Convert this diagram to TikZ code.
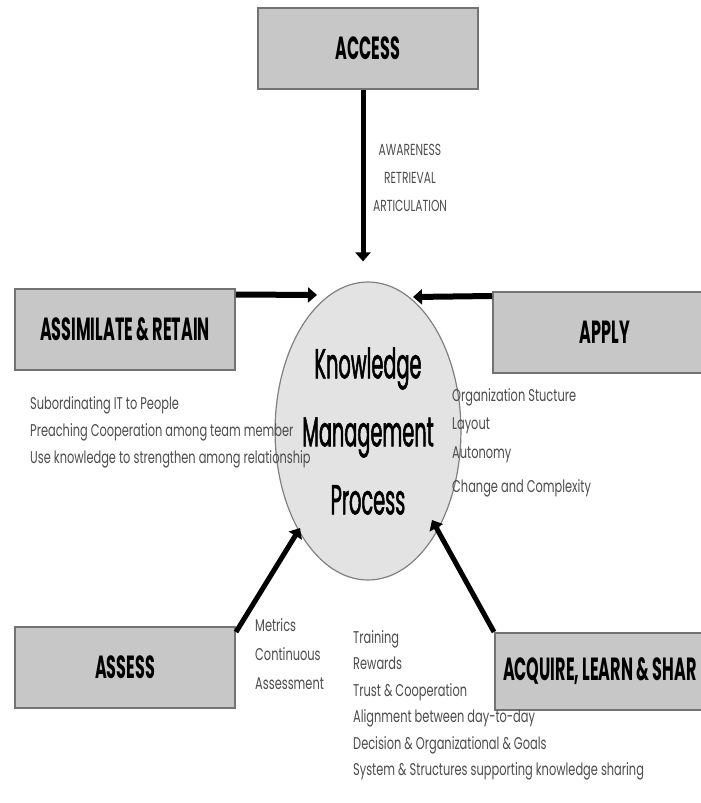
\documentclass[tikz,border=0pt]{standalone}
\usepackage{fontspec}
\usetikzlibrary{arrows.meta}
\usetikzlibrary{shapes.geometric}
\newfontfamily\boxfont[FakeStretch=0.5]{Poppins}
\newfontfamily\kmfont[FakeStretch=0.46,FakeBold=1.2]{Poppins}
\newfontfamily\notefont[FakeStretch=0.67]{Poppins}
\definecolor{boxgray}{gray}{0.78}
\definecolor{kmgray}{gray}{0.89}
\tikzset{
	stagebox/.style={draw=black!55,line width=2pt,fill=boxgray,minimum width=220pt,minimum height=81pt,inner sep=0pt,font=\boxfont\bfseries\fontsize{32}{32}\selectfont},
	notes/.style={align=left,text=black!70,inner sep=0pt,font=\notefont\fontsize{17}{27}\selectfont},
	flow/.style={line width=6pt,-{Triangle[length=9pt,width=15pt]}},
}

\begin{document}
\begin{tikzpicture}[x=1pt,y=-1pt]
			\useasboundingbox (0,0) rectangle (701,803);
			\node [stagebox] (access) at (368,48.5) {ACCESS};
			\node [stagebox] (assim) at (125,329) {ASSIMILATE \& RETAIN};
			\node [stagebox,minimum width=224pt] (apply) at (605,332.5) {APPLY};
			\node [stagebox] (assess) at (125,667.5) {ASSESS};
			\node [stagebox,anchor=north west,inner xsep=8pt,minimum height=77pt] (acquire) at (494,632) {\makebox[230pt][l]{ACQUIRE, LEARN \& SHAR}};
			\node [ellipse,draw=black!50,line width=1.2pt,fill=kmgray,minimum width=137pt,minimum height=298pt,inner sep=0pt,align=center,font=\kmfont\fontsize{42}{68}\selectfont] (kmp) at (368,431) {Knowledge\\Management\\Process};

			\draw [flow,line width=5pt,shorten >=20pt] ([xshift=-5pt]access.south) -- ([xshift=-5pt]kmp.north);
			\coordinate (assimtip) at (317,295);
			\draw [flow] ([yshift=-7pt]assim.north east) -- (assimtip);
			\coordinate (applytip) at (413,297);
			\draw [flow] ([yshift=-5pt]apply.north west) -- (applytip);
			\coordinate (assesstip) at (300,528);
			\draw [flow,line width=5pt] ([yshift=-6pt]assess.north east) -- (assesstip);
			\coordinate (acquiretip) at (432,520);
			\draw [flow,line width=5pt] (acquire.north west) -- (acquiretip);

			\node [notes,align=center,font=\notefont\fontsize{16}{28}\selectfont] (accesslbl) at (410,178) {AWARENESS\\RETRIEVAL\\ARTICULATION};
			\node [notes,anchor=north west] (assimlbl) at (30,396) {Subordinating IT to People\\Preaching Cooperation among team member\\Use knowledge to strengthen among relationship};
			\node [notes,anchor=north west,font=\notefont\fontsize{17}{28.5}\selectfont] (applylbl) at (452,388) {Organization Stucture\\Layout\\Autonomy\\[6pt]Change and Complexity};
			\node [notes,anchor=north west,font=\notefont\fontsize{17}{29}\selectfont] (assesslbl) at (255,618) {Metrics\\Continuous\\Assessment};
			\node [notes,anchor=north west,font=\notefont\fontsize{17}{26.5}\selectfont] (acquirelbl) at (353,630) {Training\\Rewards\\Trust \& Cooperation\\Alignment between day-to-day\\Decision \& Organizational \& Goals\\System \& Structures supporting knowledge sharing};
\end{tikzpicture}
\end{document}
